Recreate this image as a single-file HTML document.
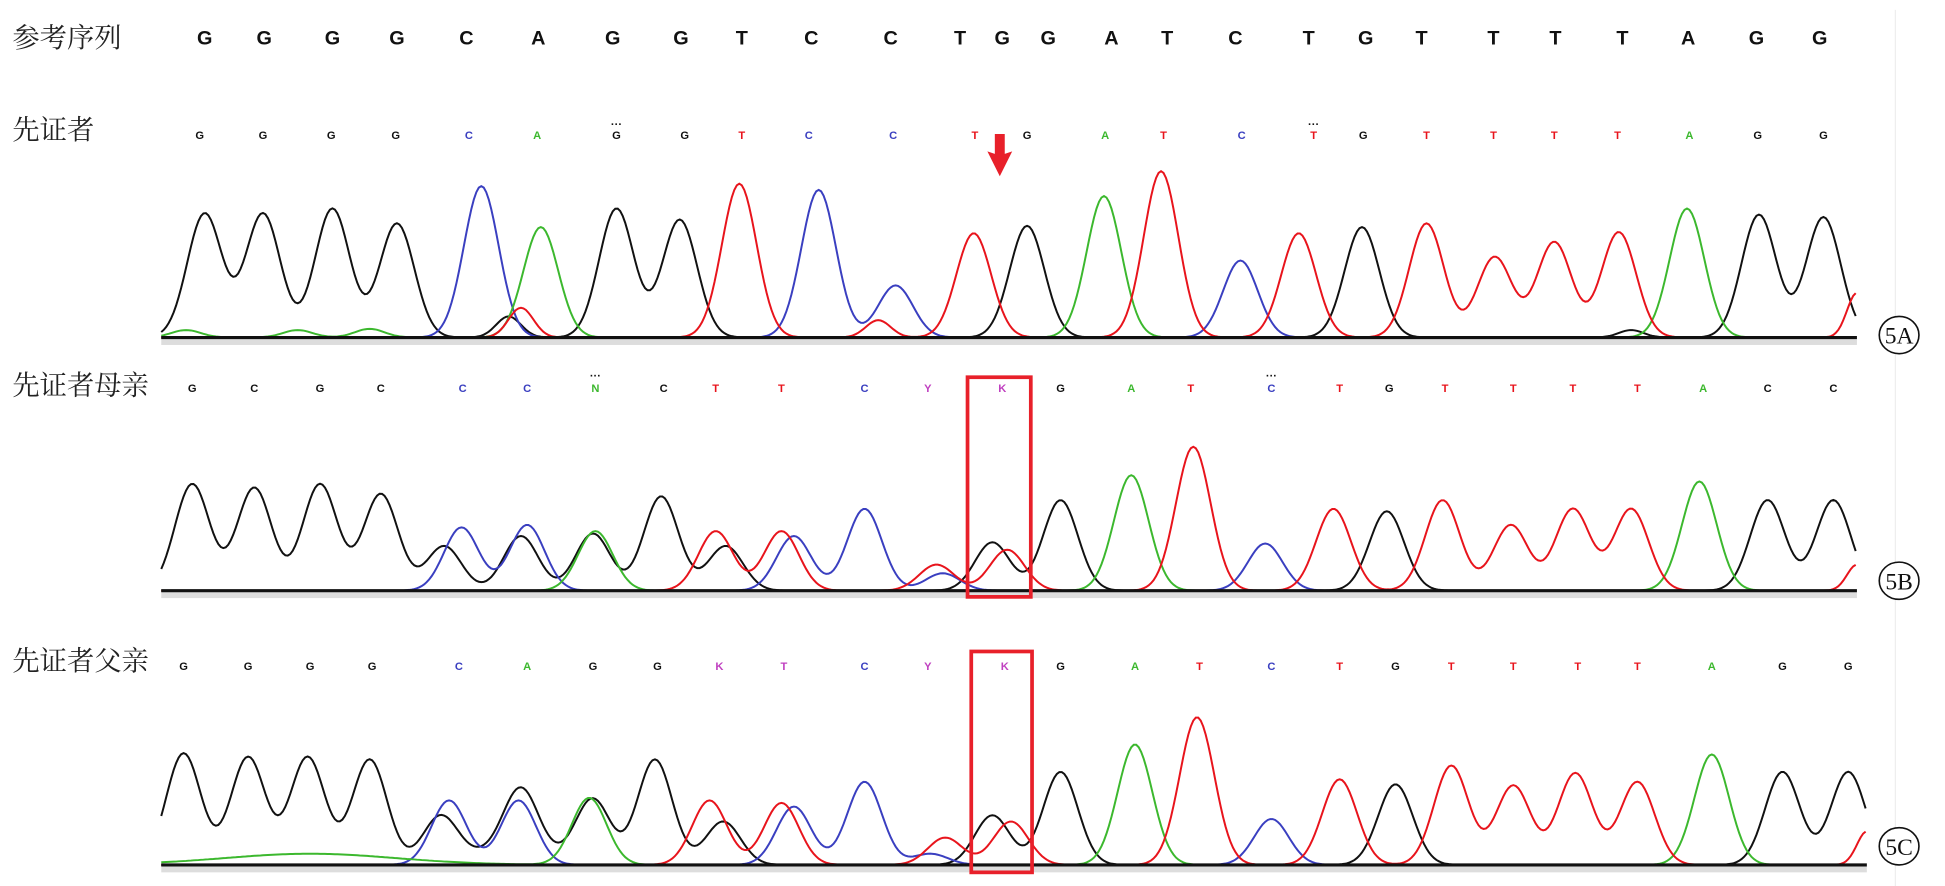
<!DOCTYPE html>
<html><head><meta charset="utf-8"><style>
html,body{margin:0;padding:0;background:#fff;}
svg{display:block;}
.cj{font-family:"Liberation Serif","Noto Serif CJK SC","Noto Sans CJK SC",serif;font-size:22px;fill:#222;}
.rf{font-family:"Liberation Sans",sans-serif;font-size:16px;font-weight:bold;fill:#111;}
.sm{font-family:"Liberation Sans",sans-serif;font-size:9px;font-weight:bold;}
.lb{font-family:"Liberation Serif",serif;font-size:19px;fill:#111;}
</style></head><body>
<svg id="s" xmlns="http://www.w3.org/2000/svg" width="1945" height="886" viewBox="0 0 1568 714" preserveAspectRatio="none">
<rect width="1568" height="714" fill="#fff"/>
<line x1="1528" y1="8" x2="1528" y2="714" stroke="#eee" stroke-width="1"/>
<text class="cj" x="10" y="38">参考序列</text>
<text class="cj" x="10" y="112">先证者</text>
<text class="cj" x="10" y="318">先证者母亲</text>
<text class="cj" x="10" y="540">先证者父亲</text>
<g id="g"></g>
<polygon points="802,108 810,108 810,124 816,122 806,142 796,122 802,124" fill="#e8202a"/>
<rect x="780" y="304" width="51" height="177" fill="none" stroke="#e8202a" stroke-width="3"/>
<rect x="783" y="525" width="49" height="178" fill="none" stroke="#e8202a" stroke-width="3"/>
<ellipse cx="1531" cy="270" rx="16" ry="15" fill="#fff" stroke="#111" stroke-width="1.3"/>
<text class="lb" x="1531" y="277" text-anchor="middle">5A</text>
<ellipse cx="1531" cy="468" rx="16" ry="15" fill="#fff" stroke="#111" stroke-width="1.3"/>
<text class="lb" x="1531" y="475" text-anchor="middle">5B</text>
<ellipse cx="1531" cy="682" rx="16" ry="15" fill="#fff" stroke="#111" stroke-width="1.3"/>
<text class="lb" x="1531" y="689" text-anchor="middle">5C</text>
</svg>
<script>
var NS="http://www.w3.org/2000/svg",G=document.getElementById('g');
function el(n,a,t){var e=document.createElementNS(NS,n);for(var k in a)e.setAttribute(k,a[k]);if(t)e.textContent=t;G.appendChild(e);return e;}
var C={k:'#111',r:'#e8141c',g:'#3cb82e',b:'#3a3fc0',m:'#c040c0'};
var refX=[165,213,268,320,376,434,494,549,598,654,718,774,808,845,896,941,996,1055,1101,1146,1204,1254,1308,1361,1416,1467];
var ref="GGGGCAGGTCCTGGATCTGTTTTAGG";
for(var i=0;i<ref.length;i++)el('text',{'class':'rf',x:refX[i],y:36,'text-anchor':'middle'},ref[i]);
function row(s,xs,y,cols){for(var i=0;i<s.length;i++)el('text',{'class':'sm',x:xs[i],y:y,'text-anchor':'middle',fill:C[cols[i]]},s[i]);}
row("GGGGCAGGTCCTGATCTGTTTTAGG",[161,212,267,319,378,433,497,552,598,652,720,786,828,891,938,1001,1059,1099,1150,1204,1253,1304,1362,1417,1470],112,"kkkkbgkkrbbrkgrbrkrrrrgkk");
row("GCGCCCNCTTCYKGATCTGTTTTACC",[155,205,258,307,373,425,480,535,577,630,697,748,808,855,912,960,1025,1080,1120,1165,1220,1268,1320,1373,1425,1478],316,"kkkkbbgkrrbmmkgrbrkrrrrgkk");
row("GGGGCAGGKTCYKGATCTGTTTTAGG",[148,200,250,300,370,425,478,530,580,632,697,748,810,855,915,967,1025,1080,1125,1170,1220,1272,1320,1380,1437,1490],540,"kkkkbgkkmmbmmkgrbrkrrrrgkk");
// dots over some letters
el('text',{'class':'sm',x:497,y:103,'text-anchor':'middle',fill:'#111'},'···');
el('text',{'class':'sm',x:1059,y:103,'text-anchor':'middle',fill:'#111'},'···');
el('text',{'class':'sm',x:480,y:306,'text-anchor':'middle',fill:'#111'},'···');
el('text',{'class':'sm',x:1025,y:306,'text-anchor':'middle',fill:'#111'},'···');
function panel(base,x0,x1,peaks){
  el('rect',{x:x0,y:base+1,width:x1-x0,height:5,fill:'#ddd'});
  var ch={};peaks.forEach(function(p){(ch[p[2]]=ch[p[2]]||[]).push(p);});
  for(var c in ch){var d='';for(var x=x0;x<=x1;x+=2){var v=0;ch[c].forEach(function(p){var s=p[3]||14;v+=(base-p[1])*Math.exp(-Math.pow(x-p[0],2)/(2*s*s));});d+=(d?'L':'M')+x+','+(base-v).toFixed(1);}
    el('path',{d:d,fill:'none',stroke:C[c],'stroke-width':1.6});}
  el('line',{x1:x0,y1:base,x2:x1,y2:base,stroke:'#111','stroke-width':2.5});
}
panel(272,130,1497,[[165,172,'k'],[212,172,'k'],[268,168,'k'],[320,180,'k'],[388,150,'b'],[436,183,'g'],[420,248,'r',10],[410,255,'k',10],[497,168,'k'],[548,177,'k'],[596,148,'r'],[660,153,'b'],[722,230,'b'],[708,258,'r',10],[785,188,'r'],[828,182,'k'],[890,158,'g'],[936,138,'r'],[1000,210,'b'],[1047,188,'r'],[1098,183,'k'],[1150,180,'r'],[1205,207,'r'],[1253,195,'r'],[1305,187,'r'],[1315,266,'k',10],[1360,168,'g'],[1418,173,'k'],[1470,175,'k'],[1497,236,'r',8],[150,266,'g',12],[240,266,'g',12],[298,265,'g',12]]);
panel(476,130,1497,[[155,390,'k'],[205,393,'k'],[258,390,'k'],[307,398,'k'],[358,440,'k'],[372,425,'b'],[425,423,'b'],[420,432,'k'],[480,428,'g'],[478,430,'k'],[533,400,'k'],[577,428,'r'],[585,440,'k'],[630,428,'r'],[640,432,'b'],[697,410,'b'],[755,455,'r'],[760,462,'b'],[800,437,'k'],[812,443,'r'],[855,403,'k'],[912,383,'g'],[962,360,'r'],[1020,438,'b'],[1075,410,'r'],[1118,412,'k'],[1163,403,'r'],[1218,423,'r'],[1268,410,'r'],[1315,410,'r'],[1370,388,'g'],[1425,403,'k'],[1478,403,'k'],[1497,455,'r',8]]);
panel(697,130,1505,[[148,607,'k'],[200,610,'k'],[248,610,'k'],[298,612,'k'],[362,645,'b'],[355,660,'k'],[418,645,'b'],[420,645,'k'],[475,643,'g'],[478,645,'k'],[528,612,'k'],[572,645,'r'],[583,662,'k'],[630,647,'r'],[640,650,'b'],[697,630,'b'],[762,675,'r'],[750,688,'b'],[800,657,'k'],[815,662,'r'],[855,622,'k'],[915,600,'g'],[965,578,'r'],[1025,660,'b'],[1080,628,'r'],[1125,632,'k'],[1170,617,'r'],[1220,633,'r'],[1270,623,'r'],[1320,630,'r'],[1380,608,'g'],[1437,622,'k'],[1490,622,'k'],[1505,670,'r',8],[250,688,'g',70],[410,686,'k',35]]);
</script>
</body></html>
